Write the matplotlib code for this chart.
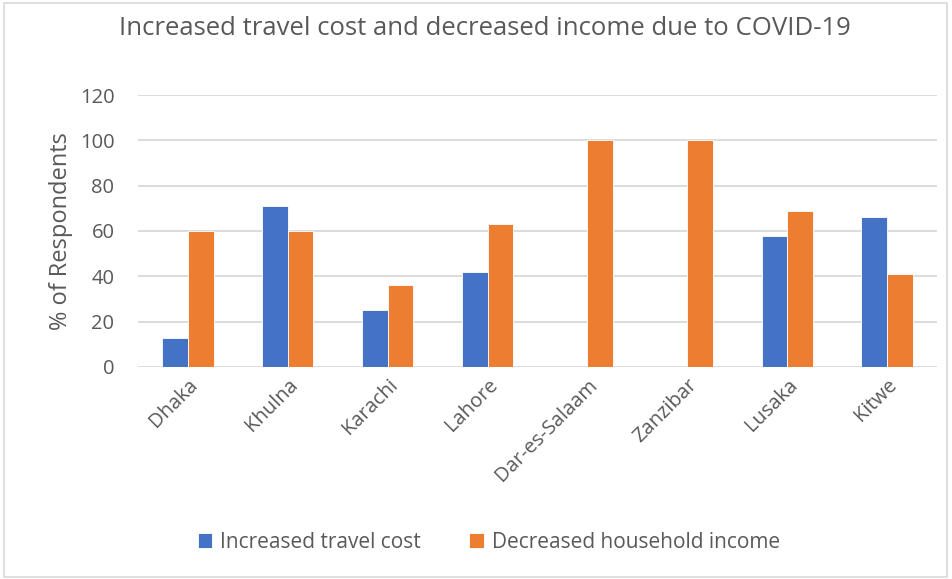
import matplotlib.pyplot as plt
import numpy as np
from matplotlib.patches import Rectangle

plt.rcParams['font.family'] = ['Open Sans', 'DejaVu Sans']

cities = ['Dhaka', 'Khulna', 'Karachi', 'Lahore', 'Dar-es-Salaam', 'Zanzibar', 'Lusaka', 'Kitwe']
travel_cost = [13, 71, 25, 42, 0, 0, 58, 66]
household_income = [60, 60, 36, 63, 100, 100, 69, 41]

blue = '#4472c4'
orange = '#ed7d31'
grey = '#595959'

fig = plt.figure(figsize=(9.53, 5.79), dpi=100)
ax = fig.add_axes([138/953, 1-367/579, 799/953, 272/579])

x = np.arange(len(cities))
w = 0.257
ax.bar(x - w/2, travel_cost, w, color=blue, edgecolor='white', linewidth=0.6,
       label='Increased travel cost', zorder=3)
ax.bar(x + w/2, household_income, w, color=orange, edgecolor='white', linewidth=0.6,
       label='Decreased household income', zorder=3)

ax.set_xlim(-0.5, len(cities) - 0.5)
ax.set_ylim(0, 120)
ax.set_yticks(range(0, 121, 20))
ax.yaxis.grid(True, color='#d9d9d9', linewidth=1.3, zorder=0)
for s in ax.spines.values():
    s.set_visible(False)
ax.tick_params(length=0, colors=grey, labelsize=14.5)
ax.tick_params(axis='y', pad=17)
ax.tick_params(axis='x', pad=6)
ax.set_xticks(x)
ax.set_xticklabels(cities, rotation=45, ha='right', rotation_mode='anchor')
ax.set_ylabel('% of Respondents', color=grey, fontsize=17, labelpad=5)

fig.text(0.509, 0.951, 'Increased travel cost and decreased income due to COVID-19',
         ha='center', va='center', fontsize=18.5, color=grey)

fig.legend(loc='center', bbox_to_anchor=(0.513, 0.063), ncol=2, frameon=False,
           fontsize=15, labelcolor=grey, handlelength=0.7, handleheight=0.7,
           columnspacing=2.3, handletextpad=0.4)

fig.patches.append(Rectangle((0.004, 0.004), 0.99, 0.99, transform=fig.transFigure,
                             fill=False, edgecolor='#d9d9d9', linewidth=1.2))

fig.savefig('out.png', dpi=100)
